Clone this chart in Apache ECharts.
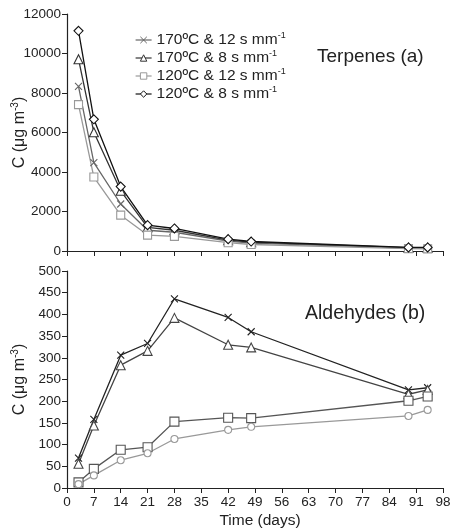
<!DOCTYPE html>
<html><head><meta charset="utf-8">
<script src="https://cdn.jsdelivr.net/npm/echarts@6/dist/echarts.min.js"></script>
<style>html,body{margin:0;padding:0;background:#fff}#c{width:452px;height:529px}</style>
</head><body><div id="c"></div>
<script>
const days = [3, 7, 14, 21, 28, 42, 48, 89, 94];
const seriesNames = ['170ºC & 12 s mm', '170ºC & 8 s mm', '120ºC & 12 s mm', '120ºC & 8 s mm'];
// Terpenes (a)
const terp170_12 = [8330, 4470, 2380, 1050, 950, 500, 400, 150, 150];
const terp170_8 = [9710, 6010, 3050, 1200, 1050, 550, 450, 170, 170];
const terp120_12 = [7410, 3745, 1815, 805, 740, 420, 330, 120, 110];
const terp120_8 = [11150, 6670, 3260, 1310, 1140, 600, 480, 180, 180];
// Aldehydes (b)
const ald170_12 = [69, 158, 306, 333, 436, 393, 360, 226, 231];
const ald170_8 = [56, 144, 283, 316, 392, 330, 324, 216, 226];
const ald120_12 = [13, 44, 88, 94, 153, 162, 161, 201, 211];
const ald120_8 = [9, 29, 64, 80, 113, 134, 141, 166, 180];
const xTicks = {min: 0, max: 98, interval: 7};

const F = 'Liberation Sans, Arial, sans-serif';
const crossPath = 'path://M0,0L10,10M10,0L0,10';
function pts(v){ return days.map((d,i)=>[d, v[i]]); }
function mk(name, data, xi, color, symbol, size){
  return {
    name, type:'line', xAxisIndex:xi, yAxisIndex:xi, data:pts(data),
    symbol, symbolSize:size, showSymbol:true,
    lineStyle:{color, width:1.3},
    itemStyle:{color:'#fff', borderColor:color, borderWidth:1.1},
    emphasis:{disabled:true}, animation:false, z: 3
  };
}
const tops = [
  mk(seriesNames[0], terp170_12, 0, '#666', crossPath, 7),
  mk(seriesNames[1], terp170_8, 0, '#333', 'triangle', 9),
  mk(seriesNames[2], terp120_12, 0, '#999', 'rect', 8),
  mk(seriesNames[3], terp120_8, 0, '#111', 'diamond', 9)
];
const bots = [
  mk('b1', ald170_12, 1, '#222', crossPath, 7),
  mk('b2', ald170_8, 1, '#444', 'triangle', 9),
  mk('b3', ald120_12, 1, '#555', 'rect', 9),
  mk('b4', ald120_8, 1, '#999', 'circle', 7)
];
const axisLine = {show:true, lineStyle:{color:'#222', width:1.2}};
const axisTick = {show:true, length:5, lineStyle:{color:'#222'}};
const yName = '{a|C (μg m}{s|-3}{a|)}';
const nameRich = {a:{fontSize:16, fontFamily:F, color:'#222'}, s:{fontSize:10, fontFamily:F, color:'#222', padding:[0,0,9,0]}};
const yLabel = {fontSize:13.5, fontFamily:F, color:'#222', margin:6, formatter: v => String(v)};
const option = {
  backgroundColor:'#fff',
  animation:false,
  grid:[
    {left:67, top:14, width:376, height:237, outerBoundsMode:'none', containLabel:false},
    {left:67, top:271, width:376, height:217, outerBoundsMode:'none', containLabel:false}
  ],
  xAxis:[
    Object.assign({type:'value', gridIndex:0, axisLine, axisTick, axisLabel:{show:false}, splitLine:{show:false}}, xTicks),
    Object.assign({type:'value', gridIndex:1, axisLine, axisTick,
      axisLabel:{fontSize:13.5, fontFamily:F, color:'#222', margin:7},
      splitLine:{show:false}, name:'Time (days)', nameLocation:'middle', nameGap:25, nameMoveOverlap:false,
      nameTextStyle:{fontSize:15.5, fontFamily:F, color:'#222', padding:[0,0,0,10]}}, xTicks)
  ],
  yAxis:[
    {type:'value', gridIndex:0, min:0, max:12000, interval:2000, axisLine, axisTick,
     axisLabel:yLabel, splitLine:{show:false},
     name:yName, nameLocation:'middle', nameGap:38, nameMoveOverlap:false, nameTextStyle:{rich:nameRich}},
    {type:'value', gridIndex:1, min:0, max:500, interval:50, axisLine, axisTick,
     axisLabel:yLabel, splitLine:{show:false},
     name:yName, nameLocation:'middle', nameGap:38, nameMoveOverlap:false, nameTextStyle:{rich:nameRich}}
  ],
  legend:{
    data:seriesNames, orient:'vertical', left:130, top:26, itemGap:1, itemWidth:16, itemHeight:8,
    itemStyle:{color:'#fff', borderWidth:1},
    lineStyle:{width:1.2},
    formatter: n => '{a|' + n + '}{s|-1}',
    textStyle:{rich:{a:{fontSize:15.5, fontFamily:F, color:'#222'}, s:{fontSize:9, fontFamily:F, color:'#222', padding:[0,0,9,0]}}},
    selectedMode:false
  },
  title:[
    {text:'Terpenes (a)', left:312, top:42, textStyle:{fontSize:19, fontWeight:'normal', fontFamily:F, color:'#222'}},
    {text:'Aldehydes (b)', left:300, top:299, textStyle:{fontSize:19.5, fontWeight:'normal', fontFamily:F, color:'#222'}}
  ],
  series: tops.concat(bots)
};
const chart = echarts.init(document.getElementById('c'), null, {renderer:'canvas'});
chart.setOption(option);
</script></body></html>
